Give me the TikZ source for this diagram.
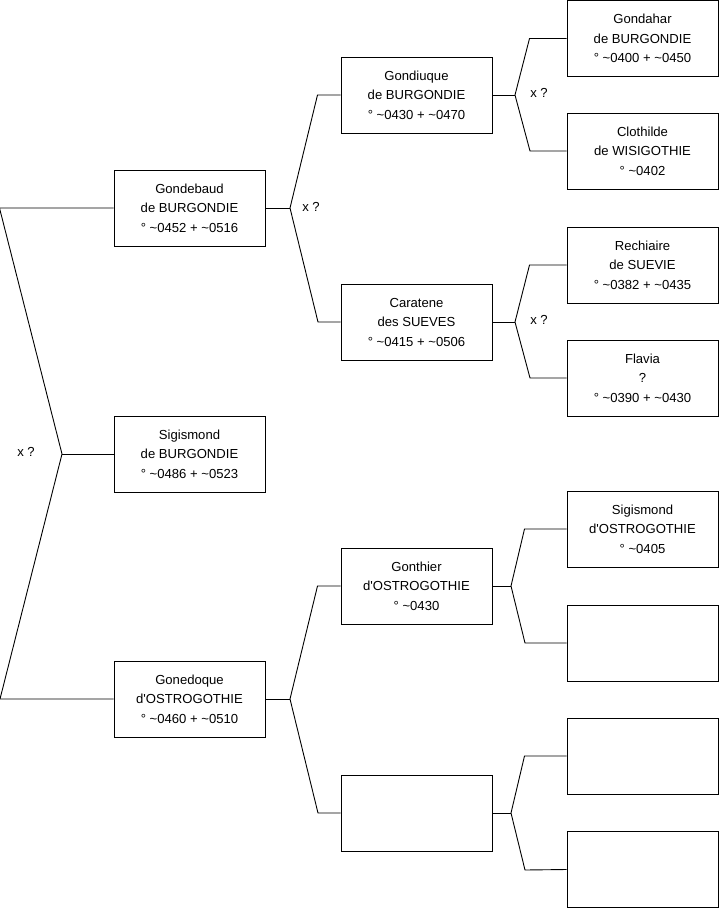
\documentclass[tikz,border=0pt]{standalone}
\usepackage{fontspec}
\setmainfont{Liberation Sans}
\usepackage{tikz}

\tikzset{
  person/.style={draw, line width=1pt, minimum width=151pt, minimum height=76pt,
    inner sep=0pt, align=center, font=\fontsize{13.1}{19.5}\selectfont},
  link/.style={line width=0.9pt},
  mark label/.style={font=\fontsize{13.1}{15}\selectfont, inner sep=0pt}
}
\newcommand{\apos}{\textquotesingle}

\begin{document}
\begin{tikzpicture}[x=1pt,y=-1pt]
        \useasboundingbox (0,0) rectangle (719,908);
        % first column
        \node[person] (gondebaud) at (189.5,208) {Gondebaud\\de BURGONDIE\\° \textasciitilde0452 + \textasciitilde0516};
        \node[person] (sigismondB) at (189.5,454) {Sigismond\\de BURGONDIE\\° \textasciitilde0486 + \textasciitilde0523};
        \node[person] (gonedoque) at (189.5,699) {Gonedoque\\d\apos OSTROGOTHIE\\° \textasciitilde0460 + \textasciitilde0510};
        % second column
        \node[person] (gondiuque) at (416.5,95) {Gondiuque\\de BURGONDIE\\° \textasciitilde0430 + \textasciitilde0470};
        \node[person] (caratene) at (416.5,322) {Caratene\\des SUEVES\\° \textasciitilde0415 + \textasciitilde0506};
        \node[person] (gonthier) at (416.5,586) {Gonthier\\d\apos OSTROGOTHIE\\° \textasciitilde0430};
        \node[person] (empty1) at (416.5,813) {};
        % third column
        \node[person] (gondahar) at (642.5,38.5) {Gondahar\\de BURGONDIE\\° \textasciitilde0400 + \textasciitilde0450};
        \node[person] (clothilde) at (642.5,151) {Clothilde\\de WISIGOTHIE\\° \textasciitilde0402};
        \node[person] (rechiaire) at (642.5,265) {Rechiaire\\de SUEVIE\\° \textasciitilde0382 + \textasciitilde0435};
        \node[person] (flavia) at (642.5,378) {Flavia\\?\\° \textasciitilde0390 + \textasciitilde0430};
        \node[person] (sigismondO) at (642.5,529) {Sigismond\\d\apos OSTROGOTHIE\\° \textasciitilde0405};
        \node[person] (empty2) at (642.5,643) {};
        \node[person] (empty3) at (642.5,756) {};
        \node[person] (empty4) at (642.5,869.5) {};
        % forks
        \coordinate (m0) at (62,454);
        \coordinate (m1) at (290,208);
        \coordinate (m2) at (515,95);
        \coordinate (m3) at (515,322);
        \coordinate (m4) at (290,699);
        \coordinate (m5) at (511,586);
        \coordinate (m6) at (511,813);
        \draw[link] (sigismondB.west) -- (m0);
        \draw[link] (gondebaud.west) -- ++(-114,0) -- (m0) -- ++(-62,245) -- (gonedoque.west);
        \draw[link] (gondebaud.east) -- (m1);
        \draw[link] (gondiuque.west) -- ++(-23,0) -- (m1) -- ++(28,114) -- (caratene.west);
        \draw[link] (gondiuque.east) -- (m2);
        \draw[link] (gondahar.west) -- ++(-37,0) -- (m2) -- ++(15,56) -- (clothilde.west);
        \draw[link] (caratene.east) -- (m3);
        \draw[link] (rechiaire.west) -- ++(-37,0) -- (m3) -- ++(15,56) -- (flavia.west);
        \draw[link] (gonedoque.east) -- (m4);
        \draw[link] (gonthier.west) -- ++(-23,0) -- (m4) -- ++(28,114) -- (empty1.west);
        \draw[link] (gonthier.east) -- (m5);
        \draw[link] (sigismondO.west) -- ++(-42,0) -- (m5) -- ++(14,57) -- (empty2.west);
        \draw[link] (empty1.east) -- (m6);
        \draw[link] (empty3.west) -- ++(-42,0) -- (m6) -- ++(14,57) -- (empty4.west);
        % labels
        \node[mark label] (x0) at (26,452) {x ?};
        \node[mark label] (x1) at (311,207) {x ?};
        \node[mark label] (x2) at (539,93) {x ?};
        \node[mark label] (x3) at (539,320) {x ?};
\end{tikzpicture}
\end{document}
